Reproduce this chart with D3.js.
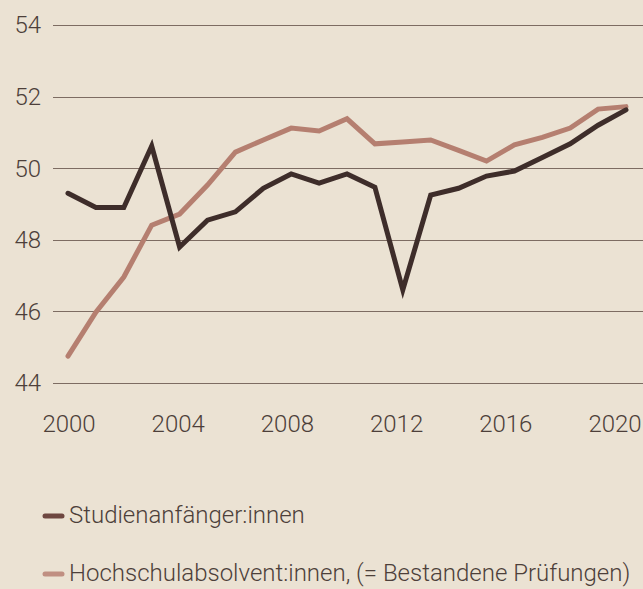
<!DOCTYPE html>
<html>
<head>
<meta charset="utf-8">
<script src="https://cdn.jsdelivr.net/npm/d3@7"></script>
<style>
  body { margin: 0; background: #ebe2d3; }
  svg { display: block; font-family: Roboto, "Noto Sans", sans-serif; }
</style>
</head>
<body>
<svg id="chart"></svg>
<script>
// years on the x axis
var years = d3.range(2000, 2021);

// Studienanfänger:innen (share in %)
var anfaenger = [49.3, 48.9, 48.9, 50.62, 47.8, 48.55, 48.78, 49.44, 49.84, 49.58, 49.84,
  49.47, 46.6, 49.25, 49.44, 49.78, 49.92, 50.3, 50.68, 51.2, 51.63];

// Hochschulabsolvent:innen (share in %)
var absolventen = [44.75, 45.98, 46.96, 48.41, 48.72, 49.53, 50.45, 50.79, 51.12, 51.04, 51.38,
  50.68, 50.73, 50.79, 50.5, 50.2, 50.65, 50.86, 51.12, 51.65, 51.72];

var yTicks = [44, 46, 48, 50, 52, 54];
var xTicks = [2000, 2004, 2008, 2012, 2016, 2020];

var seriesNames = ['Studienanfänger:innen', 'Hochschulabsolvent:innen, (= Bestandene Prüfungen)'];
var lineColors = ['#3e2d2a', '#b57f70'];
var legendColors = ['#6e4740', '#c08f82'];

var width = 643, height = 589;
var svg = d3.select('#chart').attr('width', width).attr('height', height);

var x = d3.scaleLinear().domain([2000, 2020]).range([68, 626]);
// labels sit a little tighter than the data points
var xLabel = d3.scaleLinear().domain([2000, 2020]).range([69, 615]);
var y = d3.scaleLinear().domain([44, 54]).range([383, 25]);

// gridlines
svg.append('g')
  .selectAll('line')
  .data(yTicks)
  .enter()
  .append('line')
  .attr('x1', 53)
  .attr('x2', width)
  .attr('y1', function (d) { return Math.round(y(d)) + 0.5; })
  .attr('y2', function (d) { return Math.round(y(d)) + 0.5; })
  .attr('stroke', '#7d6c62')
  .attr('stroke-width', 1);

// y labels
svg.append('g')
  .selectAll('text')
  .data(yTicks)
  .enter()
  .append('text')
  .attr('x', 41)
  .attr('y', function (d) { return y(d); })
  .attr('dy', '0.35em')
  .attr('text-anchor', 'end')
  .attr('font-size', 24)
  .attr('font-weight', 300)
  .attr('fill', '#4d3f3a')
  .text(function (d) { return d; });

// x labels
svg.append('g')
  .selectAll('text')
  .data(xTicks)
  .enter()
  .append('text')
  .attr('x', function (d) { return xLabel(d); })
  .attr('y', 432)
  .attr('text-anchor', 'middle')
  .attr('font-size', 24)
  .attr('font-weight', 300)
  .attr('fill', '#4d3f3a')
  .text(function (d) { return d; });

// lines
var line = d3.line()
  .x(function (d, i) { return x(years[i]); })
  .y(function (d) { return y(d); });

[absolventen, anfaenger].forEach(function (vals) {
  var idx = vals === anfaenger ? 0 : 1;
  svg.append('path')
    .datum(vals)
    .attr('d', line)
    .attr('fill', 'none')
    .attr('stroke', lineColors[idx])
    .attr('stroke-width', 5)
    .attr('stroke-linecap', 'round')
    .attr('stroke-linejoin', 'miter');
});

// legend
var legend = svg.append('g')
  .selectAll('g')
  .data(seriesNames)
  .enter()
  .append('g')
  .attr('transform', function (d, i) { return 'translate(0,' + (516 + i * 58) + ')'; });

legend.append('line')
  .attr('x1', 45)
  .attr('x2', 62)
  .attr('stroke', function (d, i) { return legendColors[i]; })
  .attr('stroke-width', 5)
  .attr('stroke-linecap', 'round');

legend.append('text')
  .attr('x', 69)
  .attr('y', 7)
  .attr('font-size', 24)
  .attr('font-weight', 300)
  .attr('fill', '#4d3f3a')
  .text(function (d) { return d; });
</script>
</body>
</html>
